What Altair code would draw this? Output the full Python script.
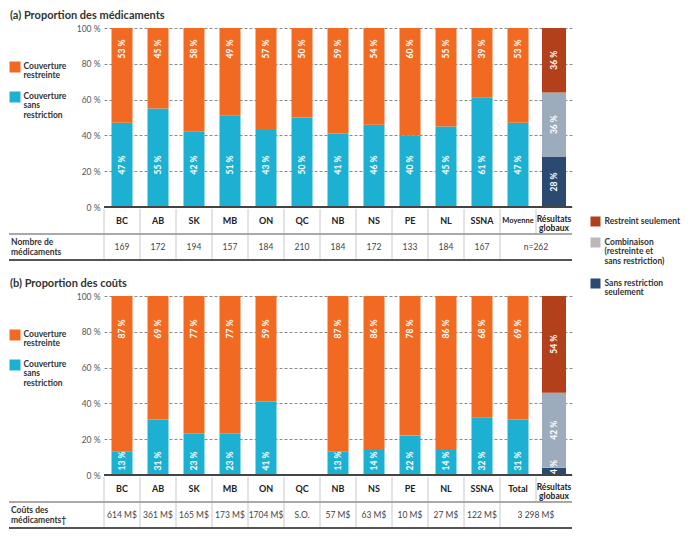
import altair as alt
import pandas as pd

FONT = "Lato"
W = 468
H = 179
GAP = 89

ORANGE = "#F26A22"
BLUE = "#1CB1D2"
DRED = "#B1401B"
GRAYB = "#9DACBD"
NAVY = "#2B4971"
LEG_GRAY = "#BDB8B5"

GLOBAL = "Résultats globaux"

# ---- data: panel (a) ----
cats_a = ["BC", "AB", "SK", "MB", "ON", "QC", "NB", "NS", "PE", "NL", "SSNA", "Moyenne"]
restr_a = [53, 45, 58, 49, 57, 50, 59, 54, 60, 55, 39, 53]
sans_a = [47, 55, 42, 51, 43, 50, 41, 46, 40, 45, 61, 47]
counts_a = ["169", "172", "194", "157", "184", "210", "184", "172", "133", "184", "167"]
global_a = [36, 36, 28]  # restreint seulement, combinaison, sans restriction seulement
merged_a = "n=262"

# ---- data: panel (b) ----
cats_b = ["BC", "AB", "SK", "MB", "ON", "QC", "NB", "NS", "PE", "NL", "SSNA", "Total"]
restr_b = [87, 69, 77, 77, 59, None, 87, 86, 78, 86, 68, 69]
sans_b = [13, 31, 23, 23, 41, None, 13, 14, 22, 14, 32, 31]
costs_b = ["614 M$", "361 M$", "165 M$", "173 M$", "1704 M$", "S.O.", "57 M$", "63 M$",
           "10 M$", "27 M$", "122 M$"]
global_b = [54, 42, 4]
merged_b = "3 298 M$"

y_ticks = [0, 20, 40, 60, 80, 100]

SERIES = ["restr", "sans", "g_restr", "g_comb", "g_sans"]
COLORS = [ORANGE, BLUE, DRED, GRAYB, NAVY]
DUMMY = pd.DataFrame({"d": [0]})


def txt(text, x, y, size=9, weight="bold", color="#333", align="left", baseline="top", lh=9.5):
    return alt.Chart(DUMMY).mark_text(
        text=text, font=FONT, fontSize=size, fontWeight=weight, color=color,
        align=align, baseline=baseline, lineBreak="\n", lineHeight=lh
    ).encode(x=alt.value(x), y=alt.value(y))


def square(color, x, y, s=11):
    return alt.Chart(DUMMY).mark_rect(color=color).encode(
        x=alt.value(x), x2=alt.value(x + s), y=alt.value(y), y2=alt.value(y + s))


def hline(y, color, width):
    return alt.Chart(DUMMY).mark_rule(color=color, strokeWidth=width).encode(
        x=alt.value(-95), x2=alt.value(W), y=alt.value(y))


def panel(title, cats, restr, sans, glob, row_label, row_values, merged,
          orange_y, blue_y, right_legend):
    all_cats = cats + [GLOBAL]
    xs = alt.Scale(domain=all_cats, paddingInner=0, paddingOuter=0)
    ys = alt.Scale(domain=[0, 100], nice=False)
    cs = alt.Scale(domain=SERIES, range=COLORS)
    X = alt.X("cat:N", scale=xs, axis=None)
    AX = alt.Axis(values=y_ticks, labelExpr="datum.value + ' %'", labelOverlap=False,
                  title=None)

    rows = []
    for c, r, s in zip(cats, restr, sans):
        if r is None:
            continue
        rows.append(dict(cat=c, series="sans", start=0, end=s, val=s))
        rows.append(dict(cat=c, series="restr", start=s, end=s + r, val=r))
    df = pd.DataFrame(rows)
    df["label"] = df["val"].astype(str) + " %"

    g_r, g_c, g_s = glob
    gdf = pd.DataFrame([
        dict(cat=GLOBAL, series="g_sans", start=0, end=g_s, val=g_s),
        dict(cat=GLOBAL, series="g_comb", start=g_s, end=g_s + g_c, val=g_c),
        dict(cat=GLOBAL, series="g_restr", start=g_s + g_c, end=100, val=g_r),
    ])
    gdf["label"] = gdf["val"].astype(str) + " %"
    gdf["mid"] = ((gdf["start"] + gdf["end"]) / 2).clip(lower=4.5)

    bars = alt.Chart(df).mark_bar(size=21).encode(
        x=X,
        y=alt.Y("start:Q", scale=ys, title=None, axis=AX),
        y2="end:Q",
        color=alt.Color("series:N", scale=cs, legend=None),
    )
    gbars = alt.Chart(gdf).mark_bar(size=24).encode(
        x=X, y=alt.Y("start:Q", scale=ys, title=None, axis=AX), y2="end:Q",
        color=alt.Color("series:N", scale=cs, legend=None),
    )
    zero = alt.Chart(pd.DataFrame({"v": [0]})).mark_rule(color="#444", strokeWidth=2).encode(
        y=alt.Y("v:Q", scale=ys, title=None, axis=AX), x=alt.value(0), x2=alt.value(W))

    lab_style = dict(angle=270, font=FONT, fontSize=8.5, fontWeight="bold", color="white",
                     align="center", baseline="middle")
    lab_r = alt.Chart(df).transform_filter("datum.series == 'restr'").mark_text(**lab_style).encode(
        x=X, y=alt.value(orange_y), text="label:N")
    lab_s = alt.Chart(df).transform_filter("datum.series == 'sans'").mark_text(**lab_style).encode(
        x=X, y=alt.value(blue_y), text="label:N")
    lab_g = alt.Chart(gdf).mark_text(**lab_style).encode(
        x=X, y=alt.Y("mid:Q", scale=ys, title=None, axis=AX), text="label:N")

    # table
    cdf = pd.DataFrame({"cat": all_cats,
                        "lab": [c if c != GLOBAL else "Résultats\nglobaux" for c in all_cats]})
    cat_style = dict(font=FONT, fontWeight="bold", color="#222", baseline="middle",
                     lineBreak="\n", lineHeight=9)
    cat_lab = alt.Chart(cdf).transform_filter(
        "datum.cat != 'Moyenne' && datum.cat != '" + GLOBAL + "'").mark_text(
        fontSize=9, **cat_style).encode(x=X, y=alt.value(H + 14), text="lab:N")
    cat_lab_glob = alt.Chart(cdf).transform_filter("datum.cat == '" + GLOBAL + "'").mark_text(
        fontSize=8.5, **cat_style).encode(x=X, y=alt.value(H + 12), text="lab:N")
    cat_lab_small = alt.Chart(cdf).transform_filter("datum.cat == 'Moyenne'").mark_text(
        fontSize=7.5, **cat_style).encode(x=X, y=alt.value(H + 14), text="lab:N")

    div_top = alt.Chart(cdf).mark_rule(color="#c8c8c8", strokeWidth=1).encode(
        x=alt.X("cat:N", scale=xs, axis=None, bandPosition=0),
        y=alt.value(H + 2), y2=alt.value(H + 26))
    div_bot = alt.Chart(pd.DataFrame({"cat": cats})).mark_rule(color="#c8c8c8", strokeWidth=1).encode(
        x=alt.X("cat:N", scale=xs, axis=None, bandPosition=0),
        y=alt.value(H + 28), y2=alt.value(H + 52))

    vdf = pd.DataFrame({"cat": cats[:len(row_values)], "v": row_values})
    val_txt = alt.Chart(vdf).mark_text(font=FONT, fontSize=8.5, color="#444",
                                       baseline="middle").encode(
        x=X, y=alt.value(H + 40), text="v:N")
    merged_txt = alt.Chart(pd.DataFrame({"cat": [GLOBAL], "v": [merged]})).mark_text(
        font=FONT, fontSize=8.5, color="#444", baseline="middle").encode(
        x=alt.X("cat:N", scale=xs, axis=None, bandPosition=0),
        y=alt.value(H + 40), text="v:N")

    layers = [
        bars, gbars, zero, lab_r, lab_s, lab_g,
        div_top, div_bot, hline(H + 27, "#8c8c8c", 1.5), hline(H + 53, "#555", 2),
        cat_lab, cat_lab_glob, cat_lab_small, val_txt, merged_txt,
        txt(row_label, -93, H + 31, size=8.5),
        txt(title, -94, -12, size=11, baseline="middle", color="#333"),
        square(ORANGE, -94.5, 33.5),
        txt("Couverture\nrestreinte", -80.5, 33.5, size=8.5),
        square(BLUE, -94.5, 63.5),
        txt("Couverture\nsans\nrestriction", -80.5, 63.5, size=8.5),
    ]
    if right_legend:
        lx = 486.5
        layers += [
            square(DRED, lx, 188.5, 10),
            txt("Restreint seulement", lx + 14, 188.5, size=8.5),
            square(LEG_GRAY, lx, 209.5, 10),
            txt("Combinaison\n(restreinte et\nsans restriction)", lx + 14, 209.5, size=8.5),
            square(NAVY, lx, 250.5, 10),
            txt("Sans restriction\nseulement", lx + 14, 250.5, size=8.5),
        ]
    return alt.layer(*layers).properties(width=W, height=H)


pa = panel("(a) Proportion des médicaments", cats_a, restr_a, sans_a, global_a,
           "Nombre de\nmédicaments", counts_a, merged_a, 21, H - 42, True)
pb = panel("(b) Proportion des coûts", cats_b, restr_b, sans_b, global_b,
           "Coûts des\nmédicaments†", costs_b, merged_b, 33, H - 14, False)

chart = alt.vconcat(pa, pb, spacing=GAP, bounds="flush").resolve_scale(
    x="independent", y="independent", color="independent"
).properties(padding={"top": 2, "left": 0, "right": 0, "bottom": 0}).configure_view(
    stroke=None
).configure_axis(
    labelFont=FONT, labelFontSize=8.5, labelColor="#555", labelPadding=4,
    domain=False, ticks=False, grid=True, gridDash=[3, 2], gridColor="#8a8a8a",
    gridWidth=1
)

chart.save("out.html", embed_options={"renderer": "svg", "actions": False})
